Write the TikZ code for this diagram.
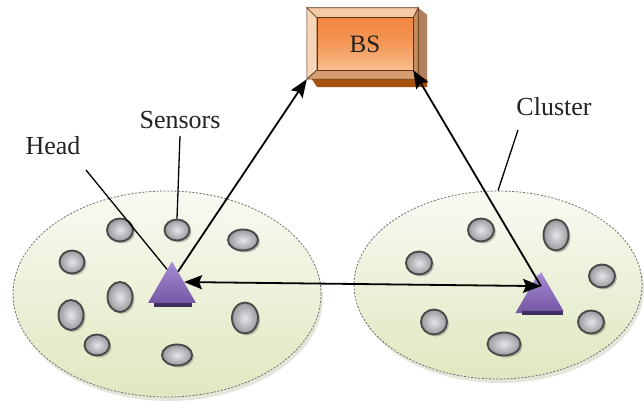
\documentclass[tikz,border=0pt]{standalone}
\usepackage{fontspec}
\setmainfont{Liberation Serif}
\usetikzlibrary{shapes.geometric,arrows.meta,calc,shadows}

\definecolor{clusterTop}{HTML}{F8FAF2}
\definecolor{clusterBot}{HTML}{DFE8C0}
\definecolor{clusterLine}{HTML}{6E6E6E}
\definecolor{sensIn}{HTML}{E6E6EA}
\definecolor{sensOut}{HTML}{9A9A9E}
\definecolor{sensLine}{HTML}{4A4A4A}
\definecolor{headTop}{HTML}{A78BD3}
\definecolor{headBot}{HTML}{7658A6}
\definecolor{headDark}{HTML}{3F3060}
\definecolor{faceTop}{HTML}{F2863F}
\definecolor{faceBot}{HTML}{F9BF8F}
\definecolor{bevelTop}{HTML}{F4C9A4}
\definecolor{bevelLeft}{HTML}{F6D5B9}
\definecolor{bevelBot}{HTML}{D69C72}
\definecolor{bevelRight}{HTML}{C48B63}
\definecolor{boxShadeB}{HTML}{A5520F}
\definecolor{boxShadeR}{HTML}{B08060}
\definecolor{boxLine}{HTML}{5A3414}
\definecolor{txt}{HTML}{222222}

\begin{document}
\begin{tikzpicture}[x=1pt,y=-1pt,
  cluster/.style={ellipse, inner sep=0pt, top color=clusterTop, bottom color=clusterBot,
    draw=clusterLine, line width=0.8pt, dash pattern=on 2pt off 1.6pt,
    drop shadow={shadow xshift=2pt, shadow yshift=-4pt, fill=clusterBot!80!black, opacity=0.35}},
  sensor/.style={ellipse, inner sep=0pt, inner color=sensIn, outer color=sensOut,
    draw=sensLine, line width=1.9pt,
    drop shadow={shadow xshift=2pt, shadow yshift=-2pt, fill=black, opacity=0.22}},
  head/.style={regular polygon, regular polygon sides=3, inner sep=0pt,
    top color=headTop, bottom color=headBot},
  lbl/.style={font=\fontsize{26}{30}\selectfont, text=txt, inner sep=0pt},
  conn/.style={line width=1.8pt, black},
  tip/.style={-{Stealth[length=18pt,width=14pt,inset=3pt]}},
  tips/.style={{Stealth[length=18pt,width=14pt,inset=3pt]}-{Stealth[length=18pt,width=14pt,inset=3pt]}},
  pointer/.style={line width=1.3pt, black}
]
\useasboundingbox (0,0) rectangle (644,401);
\fill[white] (0,0) rectangle (644,401);

% clusters
\node[cluster, minimum width=308pt, minimum height=206pt] (cl) at (167,294) {};
\node[cluster, minimum width=288pt, minimum height=188pt] (cr) at (498,285) {};

% sensors of the left cluster
\node[sensor, minimum width=26pt, minimum height=23pt] (l1) at (120,230) {};
\node[sensor, minimum width=25pt, minimum height=21pt] (l2) at (177,230) {};
\node[sensor, minimum width=30pt, minimum height=21pt] (l3) at (243,240) {};
\node[sensor, minimum width=25pt, minimum height=23pt] (l4) at (72,262) {};
\node[sensor, minimum width=25pt, minimum height=30pt] (l5) at (120,297) {};
\node[sensor, minimum width=25pt, minimum height=30pt] (l6) at (71,315) {};
\node[sensor, minimum width=25pt, minimum height=21pt] (l7) at (97,345) {};
\node[sensor, minimum width=30pt, minimum height=21pt] (l8) at (177,355) {};
\node[sensor, minimum width=26pt, minimum height=31pt] (l9) at (245,318) {};

% sensors of the right cluster
\node[sensor, minimum width=26pt, minimum height=23pt] (r1) at (481,230) {};
\node[sensor, minimum width=25pt, minimum height=31pt] (r2) at (556,235) {};
\node[sensor, minimum width=26pt, minimum height=23pt] (r3) at (419,263) {};
\node[sensor, minimum width=26pt, minimum height=23pt] (r4) at (602,276) {};
\node[sensor, minimum width=26pt, minimum height=25pt] (r5) at (434,322) {};
\node[sensor, minimum width=26pt, minimum height=23pt] (r6) at (591,322) {};
\node[sensor, minimum width=33pt, minimum height=23pt] (r7) at (504,344) {};

% cluster heads with a dark strip under the base
\node[head, minimum size=55pt] (hl) at (172,289) {};
\fill[headDark] ([xshift=6pt]hl.corner 2) rectangle ([xshift=-4pt,yshift=-4pt]hl.corner 3);
\node[head, minimum size=52pt, xshift=-3pt, yshift=-2pt] (hrb) at (541,298) {};
\node[head, minimum size=52pt] (hr) at (541,298) {};
\fill[headDark] ([xshift=4pt]hr.corner 2) rectangle ([xshift=-1pt,yshift=-4pt]hr.corner 3);

% base station: bevelled orange block
\node[minimum width=111pt, minimum height=71pt, inner sep=0pt] (bs) at (362.5,43.5) {};
\node[minimum width=96pt, minimum height=52pt, inner sep=0pt] (face) at (365,44) {};
\fill[boxShadeR] (bs.north east) -- ++(9,7) -- ++(0,72) -- (bs.south east) -- cycle;
\fill[boxShadeB] ([xshift=5pt]bs.south west) -- (bs.south east) -- ++(9,0) -- ++(0,8) -- ++(-110,0) -- cycle;
\begin{scope}[draw=boxLine, line width=0.6pt]
  \filldraw[fill=bevelTop] (bs.north west) -- (bs.north east) -- (face.north east) -- (face.north west) -- cycle;
  \filldraw[fill=bevelLeft] (bs.north west) -- (face.north west) -- (face.south west) -- (bs.south west) -- cycle;
  \filldraw[fill=bevelBot] (bs.south west) -- (bs.south east) -- (face.south east) -- (face.south west) -- cycle;
  \filldraw[fill=bevelRight] (bs.north east) -- (bs.south east) -- (face.south east) -- (face.north east) -- cycle;
  \shade[top color=faceTop, bottom color=faceBot, middle color=faceTop!70!faceBot]
    (face.north west) rectangle (face.south east);
  \draw (face.north west) rectangle (face.south east);
\end{scope}
\node[font=\fontsize{25}{30}\selectfont, text=txt] (bsText) at (face.center) {BS};

% labels
\node[lbl] (tHead) at (53,146) {Head};
\node[lbl] (tSens) at (180,120) {Sensors};
\node[lbl] (tClus) at (554,107) {Cluster};

% connector end points on the heads
\coordinate (hlUp) at ($(hl.corner 1)!0.25!(hl.corner 3)$);
\coordinate (hlSide) at ($(hl.corner 1)!0.5!(hl.corner 3)$);
\coordinate (hlLeft) at ($(hl.corner 1)!0.2!(hl.corner 2)$);
\coordinate (hrIn) at ($(hr.corner 1)!0.55!(hr.center)$);

% free ends of the label pointers
\coordinate (headPt) at (86,170);
\coordinate (sensPt) at (180,136);
\coordinate (clusPt) at (518,130);

% links
\draw[conn, tip] (hlUp) -- (bs.south west);
\draw[conn, tip] (hrIn) -- (face.south east);
\draw[conn, tips] (hlSide) -- (hrIn);

% label pointers
\draw[pointer] (headPt) -- (hlLeft);
\draw[pointer] (sensPt) -- (l2.north);
\draw[pointer] (clusPt) -- (cr.north);
\end{tikzpicture}
\end{document}
